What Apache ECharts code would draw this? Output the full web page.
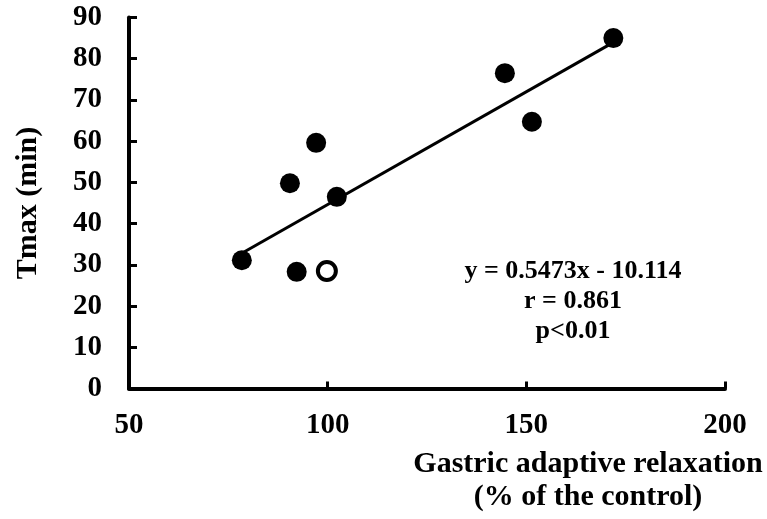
<!DOCTYPE html>
<html>
<head>
<meta charset="utf-8">
<script src="https://cdn.jsdelivr.net/npm/echarts@6/dist/echarts.min.js"></script>
<style>
html,body{margin:0;padding:0;background:#fff;}
#c{width:767px;height:519px;}
</style>
</head>
<body>
<div id="c"></div>
<script>
var FONT = '"Liberation Serif", "Times New Roman", serif';
var filledX = [78.4, 90.5, 97.1, 102.3, 92.2, 171.9, 144.6, 151.4];
var filledY = [31.1, 49.8, 59.6, 46.5, 28.3, 85.0, 76.5, 64.7];
var openX = [99.8];
var openY = [28.5];
var slope = 0.5473;
var intercept = -10.114;
var trendX = [78.4, 171.9];
var xTicks = [50, 100, 150, 200];
var yTicks = [0, 10, 20, 30, 40, 50, 60, 70, 80, 90];
var annotationLines = ['y = 0.5473x - 10.114', 'r = 0.861', 'p<0.01'];
var xTitle = ['Gastric adaptive relaxation', '(% of the control)'];
var yTitle = 'Tmax (min)';

var filled = filledX.map(function (x, i) { return [x, filledY[i]]; });
var open = openX.map(function (x, i) { return [x, openY[i]]; });
var trend = trendX.map(function (x) { return [x, slope * x + intercept]; });

var chart = echarts.init(document.getElementById('c'), null, {renderer: 'canvas'});
chart.setOption({
  animation: false,
  backgroundColor: '#fff',
  grid: {left: 129, right: 42, top: 17.5, bottom: 130.5, containLabel: false},
  xAxis: {
    type: 'value', min: xTicks[0], max: xTicks[xTicks.length - 1], interval: 50,
    splitLine: {show: false},
    axisLine: {show: true, onZero: false, lineStyle: {color: '#000', width: 4}},
    axisTick: {show: true, inside: true, length: 7, lineStyle: {color: '#000', width: 3}},
    axisLabel: {margin: 23, color: '#000', fontFamily: FONT, fontWeight: 'bold', fontSize: 29}
  },
  yAxis: {
    type: 'value', min: yTicks[0], max: yTicks[yTicks.length - 1], interval: 10,
    splitLine: {show: false},
    axisLine: {show: true, onZero: false, lineStyle: {color: '#000', width: 4}},
    axisTick: {show: true, inside: true, length: 8, lineStyle: {color: '#000', width: 3}},
    axisLabel: {margin: 27, color: '#000', fontFamily: FONT, fontWeight: 'bold', fontSize: 29}
  },
  graphic: [
    {type: 'text', x: 28, y: 203, rotation: Math.PI / 2,
     style: {text: yTitle, fill: '#000', font: 'bold 30px ' + FONT, textAlign: 'center', textVerticalAlign: 'middle'}},
    {type: 'text', x: 588, y: 481,
     style: {text: xTitle.join('\n'), fill: '#000', font: 'bold 30px ' + FONT, lineHeight: 33, textAlign: 'center', textVerticalAlign: 'middle'}},
    {type: 'text', x: 573, y: 301,
     style: {text: annotationLines.join('\n'), fill: '#000', font: 'bold 26px ' + FONT, lineHeight: 30, textAlign: 'center', textVerticalAlign: 'middle'}}
  ],
  series: [
    {type: 'line', data: trend, symbol: 'none', z: 1,
     lineStyle: {color: '#000', width: 3}},
    {type: 'scatter', data: filled, symbol: 'circle', symbolSize: 20, z: 3,
     itemStyle: {color: '#000', opacity: 1}},
    {type: 'scatter', data: open, symbol: 'circle', symbolSize: 18, z: 3,
     itemStyle: {color: '#fff', borderColor: '#000', borderWidth: 4, opacity: 1}}
  ]
});
</script>
</body>
</html>
